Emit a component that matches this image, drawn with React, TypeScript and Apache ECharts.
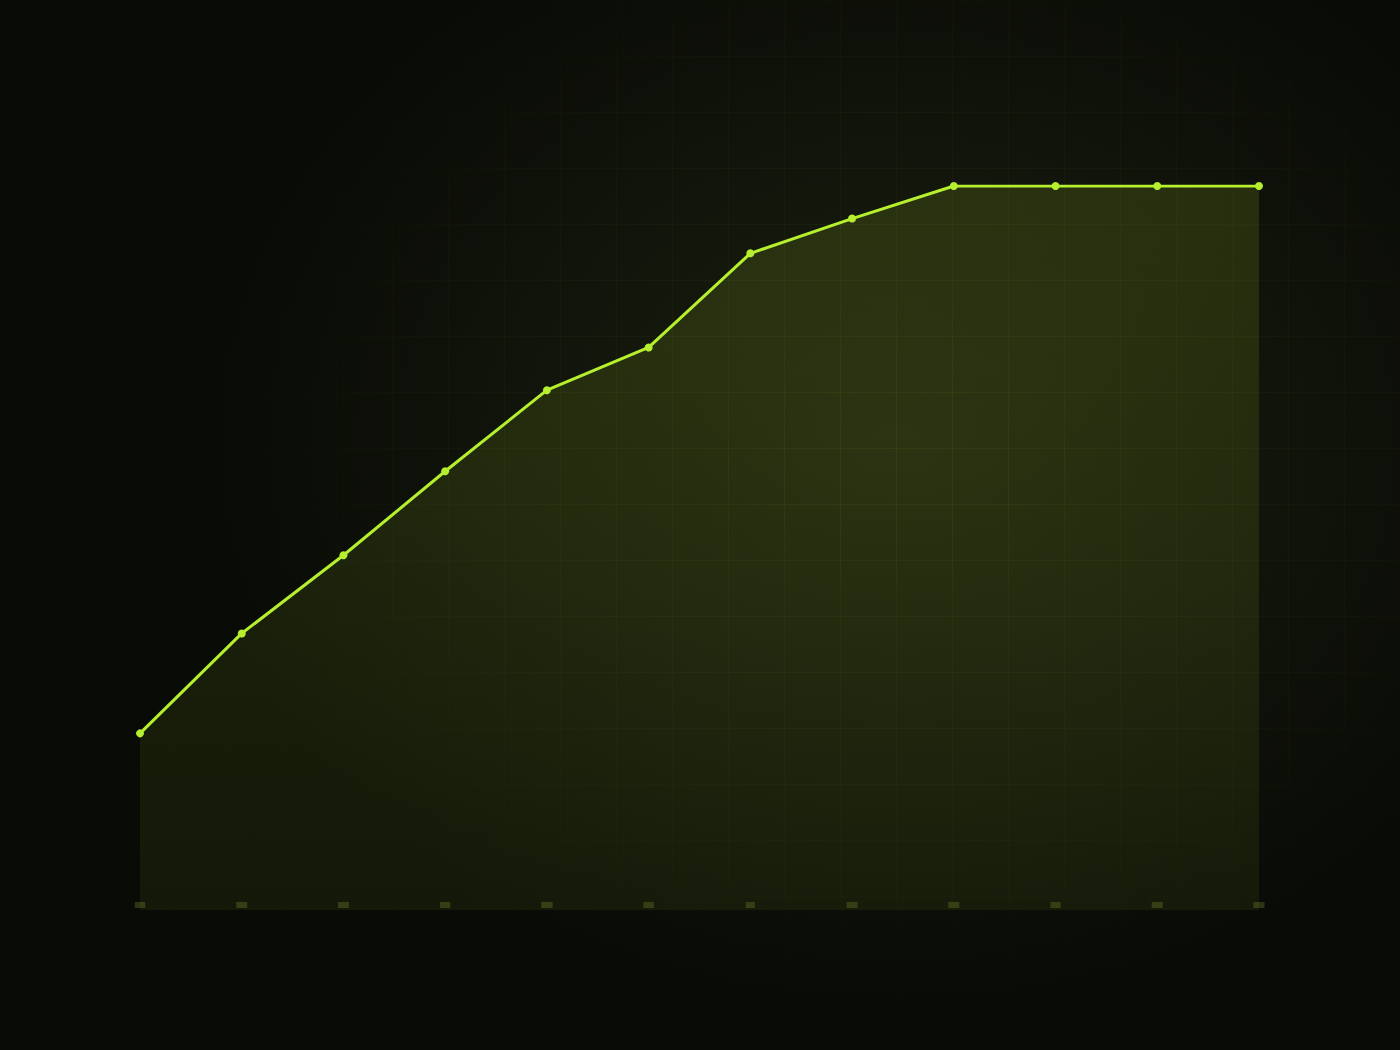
import { useEffect, useRef } from 'react'
import * as echarts from 'echarts'

const months = ['Jan', 'Feb', 'Mar', 'Apr', 'May', 'Jun', 'Jul', 'Aug', 'Sep', 'Oct', 'Nov', 'Dec']
const progress = [24.4, 38.2, 49, 60.6, 71.8, 77.7, 90.7, 95.5, 100, 100, 100, 100]

const lime = '#b5ef2e'

export default function App() {
  const ref = useRef<HTMLDivElement | null>(null)

  useEffect(() => {
    document.body.style.margin = '0'
    if (!ref.current) return
    const chart = echarts.init(ref.current, null, { renderer: 'svg' })
    chart.setOption({
      animation: false,
      backgroundColor: 'transparent',
      grid: { left: 140, right: 141, top: 186, bottom: 140 },
      xAxis: {
        type: 'category',
        data: months,
        boundaryGap: false,
        axisLine: { show: false },
        axisTick: { show: false },
        splitLine: { show: false },
        axisLabel: {
          inside: true,
          margin: 2,
          fontSize: 4,
          color: '#2e3614',
          backgroundColor: '#2c3413',
          padding: [1, 2],
          interval: 0
        }
      },
      yAxis: {
        type: 'value',
        min: 0,
        max: 100,
        show: false,
        splitLine: { show: false }
      },
      series: [
        {
          type: 'line',
          data: progress,
          symbol: 'circle',
          symbolSize: 8,
          lineStyle: { color: lime, width: 3 },
          itemStyle: { color: lime },
          areaStyle: {
            color: new echarts.graphic.LinearGradient(0, 0, 0, 1, [
              { offset: 0, color: 'rgba(165, 205, 40, 0.22)' },
              { offset: 1, color: 'rgba(165, 205, 40, 0.10)' }
            ])
          }
        }
      ]
    })
    return () => chart.dispose()
  }, [])

  return (
    <div
      style={{
        position: 'relative',
        width: 1400,
        height: 1050,
        background:
          'radial-gradient(ellipse 50% 55% at 64% 42%, rgba(8,10,6,0) 0%, rgba(8,10,6,0.5) 55%, rgba(8,10,6,0.97) 100%),' +
          'linear-gradient(to right, rgba(100,130,35,0.12) 1px, transparent 1px) 0 0 / 56px 56px,' +
          'linear-gradient(to bottom, rgba(100,130,35,0.12) 1px, transparent 1px) 0 0 / 56px 56px,' +
          '#1a1e0f'
      }}
    >
      <div ref={ref} style={{ position: 'absolute', inset: 0, width: 1400, height: 1050 }} />
    </div>
  )
}
